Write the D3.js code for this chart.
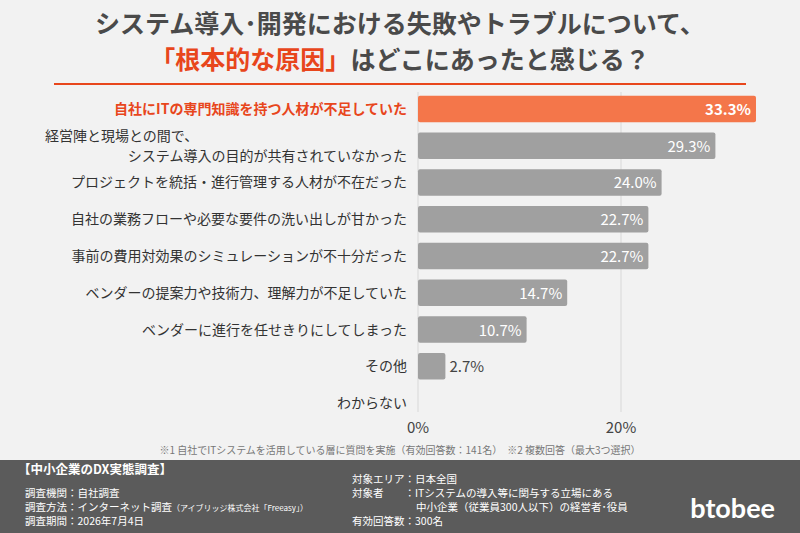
<!DOCTYPE html>
<html lang="ja">
<head>
<meta charset="UTF-8">
<script src="https://d3js.org/d3.v7.min.js"></script>
<style>
  body, html { margin: 0; padding: 0; background: #f2f2f2; overflow: hidden; }
  svg { font-family: "Noto Sans CJK JP", "Noto Sans", sans-serif; }
</style>
</head>
<body>
<svg id="chart" width="800" height="533"></svg>
<script>
// data
const categories = [
  ["自社にITの専門知識を持つ人材が不足していた"],
  ["経営陣と現場との間で、", "システム導入の目的が共有されていなかった"],
  ["プロジェクトを統括・進行管理する人材が不在だった"],
  ["自社の業務フローや必要な要件の洗い出しが甘かった"],
  ["事前の費用対効果のシミュレーションが不十分だった"],
  ["ベンダーの提案力や技術力、理解力が不足していた"],
  ["ベンダーに進行を任せきりにしてしまった"],
  ["その他"],
  ["わからない"]
];
const values = [33.3, 29.3, 24.0, 22.7, 22.7, 14.7, 10.7, 2.7, 0];
const xTicks = [0, 20];

const svg = d3.select("#chart");
const orange = "#f4764a", grey = "#a0a0a0";

// title
svg.append("text").attr("x", 400).attr("y", 33).attr("text-anchor", "middle")
  .attr("font-size", 25).attr("font-weight", 700).attr("fill", "#4a4a4a")
  .text("システム導入･開発における失敗やトラブルについて、");
const t2 = svg.append("text").attr("x", 400).attr("y", 69).attr("text-anchor", "middle")
  .attr("font-size", 25).attr("font-weight", 700).attr("fill", "#4a4a4a");
t2.append("tspan").attr("fill", "#e8461c").text("「根本的な原因」");
t2.append("tspan").text("はどこにあったと感じる？");
svg.append("line").attr("x1", 54).attr("x2", 746).attr("y1", 84).attr("y2", 84)
  .attr("stroke", "#e8461c").attr("stroke-width", 2);

const x = d3.scaleLinear().domain([0, 20]).range([418, 621]);
const y = d3.scaleBand().domain(d3.range(categories.length)).range([92, 420]).paddingInner(0.28).paddingOuter(0.1);

// gridlines
svg.append("g").selectAll("line").data(xTicks).join("line")
  .attr("x1", d => x(d)).attr("x2", d => x(d)).attr("y1", 92).attr("y2", 412)
  .attr("stroke", "#d8d8d8").attr("stroke-width", 1);

svg.append("g").selectAll("rect").data(values).join("rect")
  .attr("x", x(0)).attr("y", (d, i) => y(i))
  .attr("width", d => x(d) - x(0)).attr("height", y.bandwidth())
  .attr("rx", 2).attr("fill", (d, i) => i === 0 ? orange : grey);

// value labels
svg.append("g").selectAll("text").data(values).join("text")
  .filter(d => d > 0)
  .attr("x", d => d < 5 ? x(d) + 4 : x(d) - 5)
  .attr("y", (d, i) => y(i) + y.bandwidth() / 2 + 6)
  .attr("text-anchor", d => d < 5 ? "start" : "end")
  .attr("font-size", 15).attr("font-weight", (d, i) => i === 0 ? 700 : 400)
  .attr("fill", d => d < 5 ? "#444" : "#fff")
  .text(d => d.toFixed(1) + "%");

// category labels
const lab = svg.append("g").selectAll("text").data(categories).join("text")
  .attr("font-size", 14).attr("font-weight", (d, i) => i === 0 ? 700 : 400)
  .attr("fill", (d, i) => i === 0 ? "#e8461c" : "#333");
lab.each(function(d, i) {
  const cy = y(i) + y.bandwidth() / 2;
  const el = d3.select(this);
  d.forEach((s, k) => {
    const first = d.length > 1 && k === 0;
    el.append("tspan").attr("x", first ? 45 : 407)
      .attr("y", cy + 5 + (k - (d.length - 1) / 2) * 20)
      .attr("text-anchor", first ? "start" : "end")
      .text(s);
  });
});

// axis tick labels
svg.append("g").selectAll("text").data(xTicks).join("text")
  .attr("x", d => x(d)).attr("y", 433).attr("text-anchor", "middle")
  .attr("font-size", 15).attr("fill", "#444").text(d => d + "%");

svg.append("text").attr("x", 400).attr("y", 454).attr("text-anchor", "middle")
  .attr("font-size", 10).attr("fill", "#777")
  .text("※1 自社でITシステムを活用している層に質問を実施（有効回答数：141名）　※2 複数回答（最大3つ選択）");

// footer
const f = svg.append("g");
f.append("rect").attr("x", 0).attr("y", 460).attr("width", 800).attr("height", 73).attr("fill", "#5b5b5b");
const ft = (xx, yy, s, size, w) => f.append("text").attr("x", xx).attr("y", yy)
  .attr("font-size", size || 10.5).attr("font-weight", w || 400).attr("fill", "#fff").text(s);
ft(18, 474, "【中小企業のDX実態調査】", 12.5, 700);
ft(25, 497, "調査機関：自社調査");
const m = ft(25, 511, "調査方法：インターネット調査");
m.append("tspan").attr("font-size", 8).text("（アイブリッジ株式会社「Freeasy」）");
ft(25, 525, "調査期間：2026年7月4日");
ft(352, 483, "対象エリア：日本全国");
ft(352, 497, "対象者　　：ITシステムの導入等に関与する立場にある");
ft(416, 511, "中小企業（従業員300人以下）の経営者･役員");
ft(352, 525, "有効回答数：300名");
f.append("text").attr("x", 775).attr("y", 518).attr("text-anchor", "end")
  .attr("font-family", "Lato, sans-serif").attr("font-size", 27).attr("font-weight", 700)
  .attr("fill", "#fff").text("btobee");
</script>
</body>
</html>
